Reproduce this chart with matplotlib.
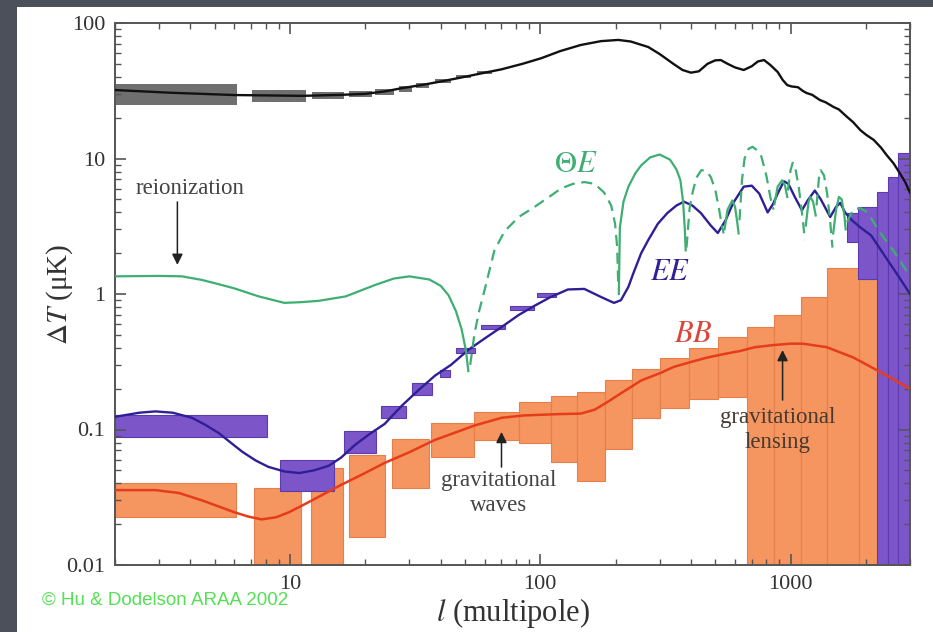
import matplotlib.pyplot as plt
from matplotlib.patches import Rectangle
import numpy as np

plt.rcParams['font.family'] = ['Liberation Serif', 'DejaVu Serif']
plt.rcParams['mathtext.fontset'] = 'stix'

FLOOR = 0.005  # boxes that run off the bottom of the plot

# temperature (TT) curve and its error boxes
tt_l = [2, 3.3, 6, 11.2, 16, 20, 24, 27.9, 34, 41, 49, 60, 70, 85, 101, 120, 145, 175, 205,
        230, 270, 300, 340, 370, 400, 430, 466, 500, 526, 560, 600, 650, 700, 740, 783, 830,
        888, 930, 970, 1010, 1070, 1120, 1160, 1220, 1310, 1380, 1485, 1560, 1680, 1780, 1900,
        2000, 2150, 2300, 2420, 2580, 2730, 2870, 3000]
tt_v = [32, 30.6, 29.4, 29, 29.5, 30, 31.3, 33, 35, 37.3, 39.8, 43, 45.5, 50, 55, 62, 68.8, 73.5, 75,
        73, 66.5, 59, 50, 45, 43, 44, 50, 53, 53.3, 50, 47, 45, 48, 52, 53.3, 49,
        43.5, 38, 34.8, 34, 33.6, 31.5, 30.4, 29.5, 27, 26, 24, 23, 20.3, 18.5, 16.2,
        15, 13.7, 12, 10.6, 9.2, 7.8, 6.7, 5.6]
tt_box_lo = [2, 7.05, 12.2, 17.2, 21.8, 27.2, 32, 38, 46, 56]
tt_box_hi = [6.15, 11.6, 16.4, 21.2, 26, 30.6, 36, 44, 53, 64]
tt_box_bottom = [24.8, 26.1, 27.5, 28.2, 29.2, 31.2, 33.3, 36.2, 39.0, 42.3]
tt_box_top = [35.4, 32.0, 30.9, 31.6, 32.6, 34.4, 36.2, 38.8, 41.2, 44.2]

# temperature-polarization cross spectrum, |value| and sign
te_l = [2, 3, 3.7, 4.45, 5.2, 6, 7.5, 9.5, 11, 13, 16.7, 22, 26, 30, 36, 40, 43, 46, 48.5, 50.5, 51.6,
        52.5, 54.6, 57, 60, 65.6, 72, 82, 95, 110, 121, 135, 150, 165, 180, 192, 199, 203, 205,
        206, 208, 215, 225, 240, 253, 275, 300, 330, 350, 363, 372, 378, 381,
        384, 395, 405, 420, 440, 460, 480, 500, 516, 530, 540,
        545, 560, 585, 600, 612, 620,
        625, 640, 655, 680, 705, 735, 765, 800, 830, 855,
        862, 888, 925, 950, 970,
        975, 1000, 1020, 1045, 1080, 1120, 1140,
        1150, 1180, 1200, 1230, 1260,
        1270, 1300, 1320, 1360, 1400, 1440, 1470,
        1480, 1520, 1560, 1600, 1640, 1660,
        1680, 1780, 1900, 2030, 2290, 2570, 3000]
te_v = [1.35, 1.36, 1.35, 1.27, 1.18, 1.1, 0.96, 0.86, 0.87, 0.89, 0.96, 1.17, 1.3, 1.35, 1.28, 1.15, 0.98, 0.75, 0.55, 0.38, 0.27,
        0.3, 0.51, 0.75, 1.08, 2.1, 2.9, 3.7, 4.4, 5.3, 6.0, 6.5, 6.7, 6.5, 5.6, 4.5, 3.3, 2.2, 1.1,
        1.0, 3.1, 4.8, 6.2, 7.8, 8.9, 10.2, 10.7, 9.8, 8.3, 6.9, 4.8, 3.0, 2.1,
        2.2, 4.3, 5.5, 7.2, 8.2, 8.1, 7.3, 5.9, 4.4, 3.3, 2.8,
        3.0, 4.2, 4.9, 4.4, 3.4, 2.8,
        3.5, 7.0, 10.0, 11.8, 12.2, 11.5, 10.3, 7.5, 5.2, 4.2,
        4.6, 6.2, 6.9, 6.3, 5.2,
        5.8, 8.2, 9.3, 8.5, 6.0, 3.5, 2.5,
        3.2, 4.8, 5.2, 4.8, 3.8,
        4.5, 7.4, 8.2, 7.5, 5.5, 3.4, 2.2,
        2.8, 4.2, 5.2, 5.0, 3.8, 3.0,
        3.4, 4.2, 4.3, 4.0, 2.8, 2.1, 1.35]
te_sign = [1] * 21 + [-1] * 18 + [1] * 14 + [-1] * 11 + [1] * 6 + [-1] * 10 + [1] * 5 \
    + [-1] * 7 + [1] * 5 + [-1] * 7 + [1] * 6 + [-1] * 7

# E-mode polarization
ee_l = [2, 2.5, 2.9, 3.4, 4.06, 4.6, 5.2, 5.8, 6.45, 7.3, 8.2, 9.5, 10.9, 12.5, 14.3, 16, 18.2,
        20.7, 23.9, 28, 32.6, 38, 44, 51.6, 60, 70, 82, 95, 110, 129, 150, 175, 197, 210, 225,
        235, 253, 270, 295, 322, 350, 375, 405, 438, 480, 512, 550, 590, 650, 700, 750, 810,
        850, 888, 940, 980, 1040, 1110, 1170, 1250, 1320, 1440, 1520, 1580, 1650, 1760, 1900,
        2100, 2430, 2700, 3000]
ee_v = [0.124, 0.133, 0.136, 0.133, 0.122, 0.108, 0.094, 0.08, 0.0685, 0.059, 0.053, 0.049, 0.0477,
        0.05, 0.054, 0.062, 0.077, 0.092, 0.11, 0.15, 0.195, 0.25, 0.30, 0.387, 0.47, 0.57, 0.7,
        0.82, 0.95, 1.08, 1.09, 0.95, 0.86, 0.9, 1.13, 1.41, 2.0, 2.5, 3.3, 3.96, 4.5, 4.8, 4.5,
        3.96, 3.2, 2.82, 3.5, 4.7, 6.2, 6.3, 5.5, 4.0, 4.6, 5.5, 6.8, 6.5, 5.2, 4.15, 4.9, 5.8,
        5.0, 3.7, 4.4, 4.7, 4.0, 3.5, 3.1, 2.7, 1.8, 1.35, 1.0]
ee_box_lo = [2, 9.1, 16.4, 23.2, 30.6, 39.6, 46, 58, 76, 97, 1688, 1866, 2222, 2450, 2690]
ee_box_hi = [8.1, 15, 22, 29.2, 36.9, 43.4, 55, 72, 94, 116, 1866, 2222, 2450, 2690, 3000]
ee_box_bottom = [0.088, 0.0354, 0.0668, 0.122, 0.18, 0.244, 0.37, 0.55, 0.76, 0.95,
                 2.4, 1.3, FLOOR, FLOOR, FLOOR]
ee_box_top = [0.128, 0.060, 0.0975, 0.149, 0.22, 0.277, 0.40, 0.59, 0.81, 1.01,
              3.96, 4.4, 5.7, 7.3, 11]

# B-mode polarization
bb_l = [2, 2.9, 3.6, 4.45, 5.2, 6, 6.8, 7.7, 8.8, 9.9, 11.2, 13, 16, 19.4, 23.9, 30, 37.8, 54.6,
        70, 86, 120, 145, 165, 186, 210, 253, 300, 342, 400, 466, 540, 630, 720, 855, 1000,
        1120, 1395, 1780, 2280, 3000]
bb_v = [0.0357, 0.0357, 0.034, 0.030, 0.027, 0.0245, 0.0228, 0.0217, 0.0225, 0.0245, 0.0275,
        0.0318, 0.039, 0.0465, 0.0567, 0.068, 0.0835, 0.107, 0.122, 0.127, 0.13, 0.131, 0.14,
        0.16, 0.185, 0.23, 0.26, 0.29, 0.315, 0.34, 0.36, 0.38, 0.405, 0.42, 0.43, 0.43, 0.405,
        0.34, 0.266, 0.2]
bb_box_lo = [2, 7.2, 12.1, 17.2, 25.5, 36.5, 54.5, 82, 110, 140, 181, 233, 302, 394, 511,
             670, 860, 1100, 1400, 1870]
bb_box_hi = [6.1, 11.1, 16.3, 23.9, 35.8, 54.5, 82, 110, 140, 181, 233, 302, 394, 511, 670,
             860, 1100, 1400, 1870, 2230]
bb_box_bottom = [0.0226, FLOOR, FLOOR, 0.0161, 0.037, 0.0627, 0.084, 0.079, 0.058, 0.0417,
                 0.0718, 0.122, 0.144, 0.168, 0.174, FLOOR, FLOOR, FLOOR, FLOOR, FLOOR]
bb_box_top = [0.040, 0.037, 0.052, 0.065, 0.085, 0.112, 0.135, 0.16, 0.177, 0.189, 0.232,
              0.28, 0.337, 0.40, 0.48, 0.571, 0.70, 0.95, 1.56, 1.3]

x_ticks = [10, 100, 1000]
x_tick_labels = ['10', '100', '1000']
y_ticks = [0.01, 0.1, 1, 10, 100]
y_tick_labels = ['0.01', '0.1', '1', '10', '100']

green = '#3fae72'
purple_fill = '#7c56c9'
ee_color = '#2e1f96'
orange_fill = '#f5955f'
bb_color = '#e63c1c'


def draw_boxes(ax, lo, hi, bottom, top, face, edge, z):
    ax.bar(lo, np.subtract(top, bottom), width=np.subtract(hi, lo), bottom=bottom,
           align='edge', color=face, edgecolor=edge, linewidth=0.8, zorder=z)


fig = plt.figure(figsize=(9.33, 6.32), dpi=100, facecolor='#4b505a')
fig.patches.append(Rectangle((17 / 933, 0), 1, (632 - 7) / 632, transform=fig.transFigure,
                             facecolor='white', edgecolor='none', zorder=-1))
ax = fig.add_axes([115 / 933, 67 / 632, 795 / 933, 542 / 632])
ax.set_xscale('log')
ax.set_yscale('log')

draw_boxes(ax, bb_box_lo, bb_box_hi, bb_box_bottom, bb_box_top, orange_fill, '#e5804c', 1)
draw_boxes(ax, ee_box_lo, ee_box_hi, ee_box_bottom, ee_box_top, purple_fill, '#5a3cb0', 1.5)
draw_boxes(ax, tt_box_lo, tt_box_hi, tt_box_bottom, tt_box_top, '#6f6f6f', 'none', 1.5)

ax.plot(tt_l, tt_v, color='#111111', lw=1.7, zorder=3)
ax.plot(ee_l, ee_v, color=ee_color, lw=1.7, zorder=3)
ax.plot(bb_l, bb_v, color=bb_color, lw=1.8, zorder=3)

# split the cross spectrum where it changes sign: solid positive, dashed negative
te_l = np.array(te_l)
te_v = np.array(te_v)
te_sign = np.array(te_sign)
breaks = np.where(np.diff(te_sign) != 0)[0] + 1
for seg_l, seg_v, seg_s in zip(np.split(te_l, breaks), np.split(te_v, breaks), np.split(te_sign, breaks)):
    ls = '-' if seg_s[0] > 0 else (0, (5, 3))
    ax.plot(seg_l, seg_v, color=green, lw=1.6, ls=ls, zorder=3)

ax.set_xlim(2, 3000)
ax.set_ylim(0.01, 100)
ax.set_xticks(x_ticks, x_tick_labels)
ax.set_yticks(y_ticks, y_tick_labels)
ax.xaxis.set_minor_formatter(plt.NullFormatter())
ax.yaxis.set_minor_formatter(plt.NullFormatter())
ax.tick_params(which='both', direction='in', top=True, right=True, color='#555555',
               labelcolor='#333333', labelsize=16)
ax.tick_params(which='major', length=8, width=1.2, pad=7)
ax.tick_params(which='minor', length=4.5, width=1)
for s in ax.spines.values():
    s.set_color('#555555')
    s.set_linewidth(1.4)

ax.set_xlabel(r'$l$ (multipole)', fontsize=22, color='#333333', labelpad=2)
ax.set_ylabel(r'$\Delta T$ (μK)', fontsize=21, color='#333333', labelpad=-6)

ax.text(139, 8.96, r'$\Theta E$', color=green, fontsize=22, ha='center', va='center', zorder=4)
ax.text(330, 1.43, r'$EE$', color=ee_color, fontsize=22, ha='center', va='center', zorder=4)
ax.text(408, 0.50, r'$BB$', color='#d9473a', fontsize=22, ha='center', va='center', zorder=4)

arrow = dict(arrowstyle='-|>', color='#222222', lw=1.1, mutation_scale=16, shrinkA=0, shrinkB=0)
ax.text(4.0, 6.05, 'reionization', fontsize=16.5, color='#444444', ha='center', va='center', zorder=4)
ax.annotate('', xy=(3.55, 1.64), xytext=(3.55, 4.78), arrowprops=arrow, zorder=4)
ax.text(68, 0.034, 'gravitational\nwaves', fontsize=16.5, color='#444444', ha='center',
        va='center', linespacing=1.2, zorder=4)
ax.annotate('', xy=(70, 0.096), xytext=(70, 0.0528), arrowprops=arrow, zorder=4)
ax.text(887, 0.099, 'gravitational\nlensing', fontsize=16.5, color='#4a3a30', ha='center',
        va='center', linespacing=1.2, zorder=4)
ax.annotate('', xy=(929, 0.386), xytext=(929, 0.165), arrowprops=arrow, zorder=4)

fig.text(42 / 933, (632 - 600) / 632, '© Hu & Dodelson ARAA 2002', fontsize=13.5,
         family=['Liberation Sans', 'DejaVu Sans'], color='#55e055', ha='left', va='center')

fig.savefig('out.png', dpi=100, facecolor=fig.get_facecolor())
